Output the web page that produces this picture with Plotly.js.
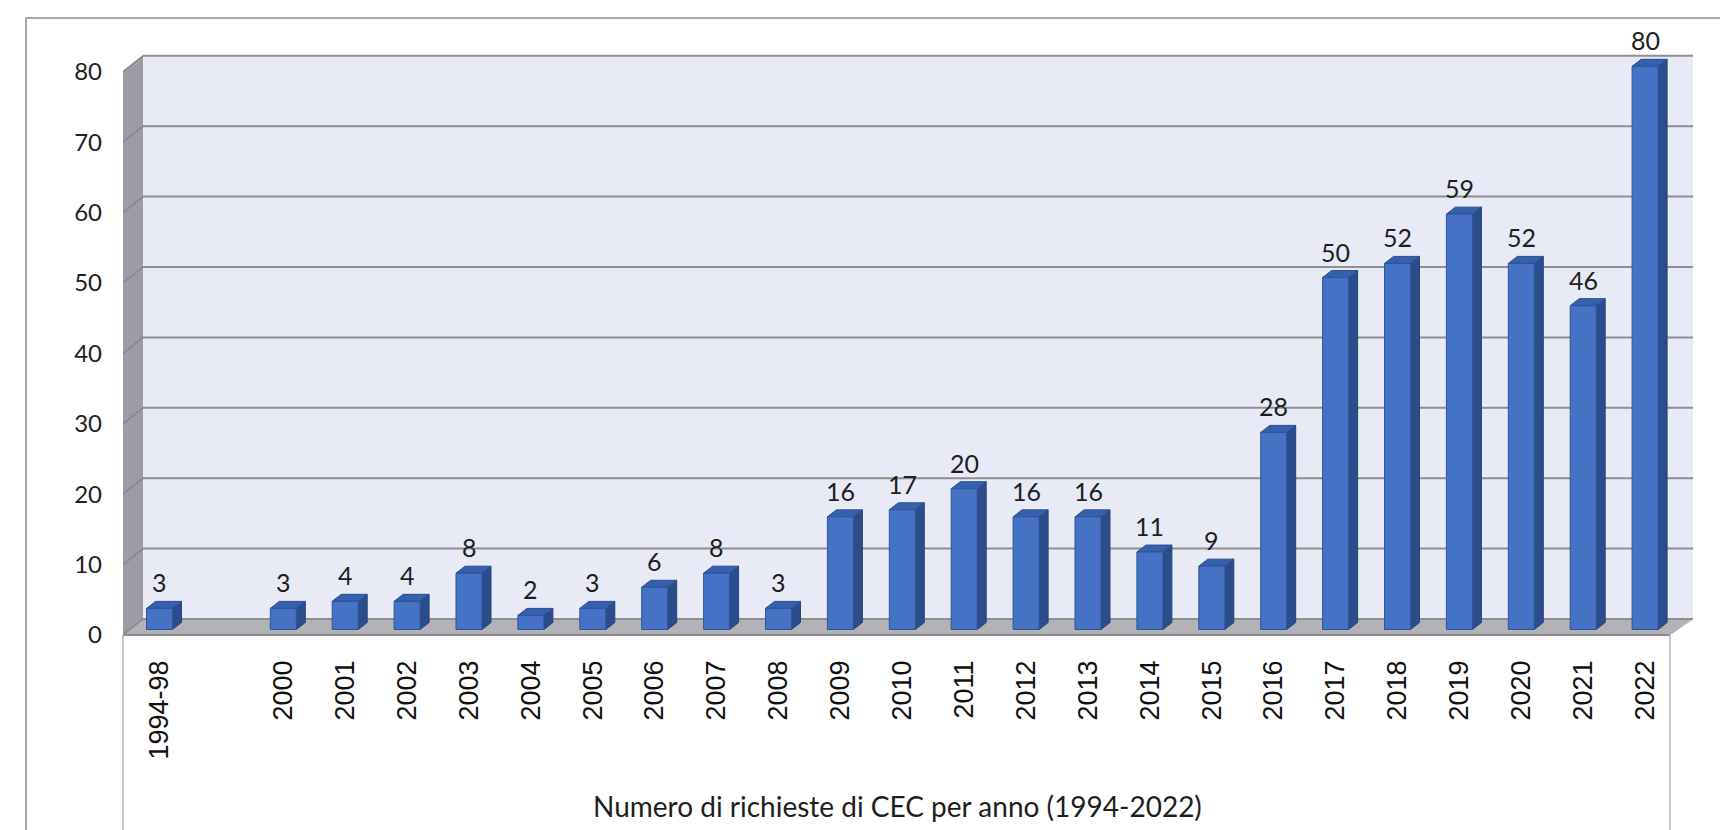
<!DOCTYPE html>
<html>
<head>
<meta charset="utf-8">
<script src="https://cdn.plot.ly/plotly-3.0.1.min.js"></script>
<style>
  html, body { margin: 0; padding: 0; background: #ffffff; }
  #chart { width: 1720px; height: 830px; }
</style>
</head>
<body>
<div id="chart"></div>
<script>
// Requests per year
const categories = ['1994-98', '', '2000', '2001', '2002', '2003', '2004', '2005', '2006',
  '2007', '2008', '2009', '2010', '2011', '2012', '2013', '2014', '2015', '2016',
  '2017', '2018', '2019', '2020', '2021', '2022'];
const values = [3, null, 3, 4, 4, 8, 2, 3, 6, 8, 3, 16, 17, 20, 16, 16, 11, 9, 28,
  50, 52, 59, 52, 46, 80];
const yTicks = [0, 10, 20, 30, 40, 50, 60, 70, 80];
const axisTitle = 'Numero di richieste di CEC per anno (1994-2022)';

// Page geometry (pixels)
const W = 1720, H = 830;
const PLOT = { left: 123, right: 1700, top: 45, bottom: 640 };
const KX = 61.9;        // pixels per category
const KY = 7.04;        // pixels per unit
const X0 = 159.5;       // pixel centre of the first category
const BASE = 629.5;     // pixel of zero for the columns
const FRONT = 635;      // pixel of zero on the front edge of the floor
const BACK = 619;       // pixel of zero on the back wall
const WALL = { left: 143, right: 1693, frontRight: 1670 };
const BAR_W = 0.42;     // column width in category units
const DEPTH = { dx: 9, dy: 7 };  // column depth in pixels

const px2x = px => (px - X0) / KX;
const py2y = py => (BASE - py) / KY;
const px2paper = px => (px - PLOT.left) / (PLOT.right - PLOT.left);
const py2paper = py => (PLOT.bottom - py) / (PLOT.bottom - PLOT.top);

const idx = categories.map((_, i) => i);

function poly(pts) {
  return 'M' + pts.map(p => p[0] + ',' + p[1]).join('L') + 'Z';
}

const shapes = [];

// back wall
shapes.push({
  type: 'path', xref: 'x', yref: 'y', layer: 'below',
  path: poly([[px2x(WALL.left), py2y(BACK)], [px2x(WALL.right), py2y(BACK)],
              [px2x(WALL.right), py2y(BACK - 80 * KY)], [px2x(WALL.left), py2y(BACK - 80 * KY)]]),
  fillcolor: '#e8eaf5', line: { width: 0 }
});
// side wall
shapes.push({
  type: 'path', xref: 'x', yref: 'y', layer: 'below',
  path: poly([[px2x(PLOT.left), py2y(FRONT)], [px2x(WALL.left), py2y(BACK)],
              [px2x(WALL.left), py2y(BACK - 80 * KY)], [px2x(PLOT.left), py2y(FRONT - 80 * KY)]]),
  fillcolor: '#9c9ca4', line: { width: 0 }
});
// floor
shapes.push({
  type: 'path', xref: 'x', yref: 'y', layer: 'below',
  path: poly([[px2x(PLOT.left), py2y(FRONT)], [px2x(WALL.frontRight), py2y(FRONT)],
              [px2x(WALL.right), py2y(BACK)], [px2x(WALL.left), py2y(BACK)]]),
  fillcolor: '#b2b2b7', line: { color: '#c4c4c8', width: 1 }
});
// gridlines on the back wall and the side wall
yTicks.forEach(v => {
  const yb = py2y(BACK - v * KY);
  const yf = py2y(FRONT - v * KY);
  shapes.push({
    type: 'line', xref: 'x', yref: 'y', layer: 'below',
    x0: px2x(WALL.left), x1: px2x(WALL.right), y0: yb, y1: yb,
    line: { color: '#8e8e93', width: 2 }
  });
  shapes.push({
    type: 'line', xref: 'x', yref: 'y', layer: 'below',
    x0: px2x(PLOT.left), x1: px2x(WALL.left), y0: yf, y1: yb,
    line: { color: '#86868e', width: 1.5 }
  });
});
// front edge of the floor
shapes.push({
  type: 'line', xref: 'x', yref: 'y', layer: 'below',
  x0: px2x(PLOT.left), x1: px2x(WALL.frontRight), y0: py2y(FRONT), y1: py2y(FRONT),
  line: { color: '#8a8a8f', width: 2 }
});

// column side and top faces
const ddx = DEPTH.dx / KX, ddy = DEPTH.dy / KY, hw = BAR_W / 2;
values.forEach((v, i) => {
  if (v === null) return;
  shapes.push({
    type: 'path', xref: 'x', yref: 'y', layer: 'below',
    path: poly([[i + hw, 0], [i + hw, v], [i + hw + ddx, v + ddy], [i + hw + ddx, ddy]]),
    fillcolor: '#2c4d8c', line: { color: '#26447c', width: 1 }
  });
  shapes.push({
    type: 'path', xref: 'x', yref: 'y', layer: 'below',
    path: poly([[i - hw, v], [i + hw, v], [i + hw + ddx, v + ddy], [i - hw + ddx, v + ddy]]),
    fillcolor: '#3560ad', line: { color: '#2a4f92', width: 1 }
  });
});

// outer frame and category box lines
shapes.push({
  type: 'rect', xref: 'paper', yref: 'paper', layer: 'above',
  x0: px2paper(26), x1: px2paper(W + 10), y0: py2paper(H + 10), y1: py2paper(18),
  line: { color: '#a8a8a8', width: 2 }, fillcolor: 'rgba(0,0,0,0)'
});
[PLOT.left, WALL.frontRight].forEach(px => {
  shapes.push({
    type: 'line', xref: 'paper', yref: 'paper', layer: 'above',
    x0: px2paper(px), x1: px2paper(px), y0: py2paper(FRONT), y1: py2paper(H),
    line: { color: '#b4b4b4', width: 1.5 }
  });
});

// value labels above the columns
const annotations = [];
values.forEach((v, i) => {
  if (v === null) return;
  annotations.push({
    x: i, y: v, xref: 'x', yref: 'y', text: String(v), showarrow: false,
    yanchor: 'middle', xanchor: 'center', yshift: 26,
    font: { family: 'Lato, "Open Sans", sans-serif', size: 25, color: '#1e1e1e' }
  });
});
annotations.push({
  xref: 'paper', yref: 'paper', x: px2paper(897), y: py2paper(806),
  xanchor: 'center', yanchor: 'middle', showarrow: false, text: axisTitle,
  font: { family: 'Lato, "Open Sans", sans-serif', size: 28, color: '#1e1e1e' }
});

const traces = [
  {
    type: 'bar', x: idx, y: values, width: BAR_W,
    marker: { color: '#4472c4', line: { color: '#2f5597', width: 1 } },
    hoverinfo: 'x+y', showlegend: false
  },
  {
    // carries the front-edge value axis
    type: 'scatter', x: idx, y: values, yaxis: 'y2', mode: 'none',
    hoverinfo: 'skip', showlegend: false
  }
];

const layout = {
  width: W, height: H,
  margin: { l: PLOT.left, r: W - PLOT.right, t: PLOT.top, b: H - PLOT.bottom, pad: 0 },
  paper_bgcolor: '#ffffff', plot_bgcolor: 'rgba(0,0,0,0)',
  showlegend: false,
  font: { family: 'Lato, "Open Sans", sans-serif', color: '#1e1e1e' },
  xaxis: {
    type: 'linear',
    range: [px2x(PLOT.left), px2x(PLOT.right)],
    tickmode: 'array', tickvals: idx, ticktext: categories, tickangle: -90,
    tickfont: { family: '"Liberation Sans", Arial, sans-serif', size: 27, color: '#111111' },
    showgrid: false, zeroline: false, showline: false, ticks: '',
    ticklabelstandoff: 14, fixedrange: true
  },
  yaxis: {
    range: [py2y(PLOT.bottom), py2y(PLOT.top)],
    showgrid: false, zeroline: false, showline: false, showticklabels: false,
    ticks: '', fixedrange: true
  },
  yaxis2: {
    overlaying: 'y', side: 'left', anchor: 'x',
    range: [(FRONT - PLOT.bottom) / KY, (FRONT - PLOT.top) / KY],
    tickmode: 'array', tickvals: yTicks,
    tickfont: { family: 'Lato, "Open Sans", sans-serif', size: 24, color: '#1e1e1e' },
    showgrid: false, zeroline: false, showline: false, ticks: '',
    ticklabelstandoff: 20, fixedrange: true
  },
  shapes: shapes,
  annotations: annotations
};

Plotly.newPlot('chart', traces, layout, { displayModeBar: false, staticPlot: true });
</script>
</body>
</html>
